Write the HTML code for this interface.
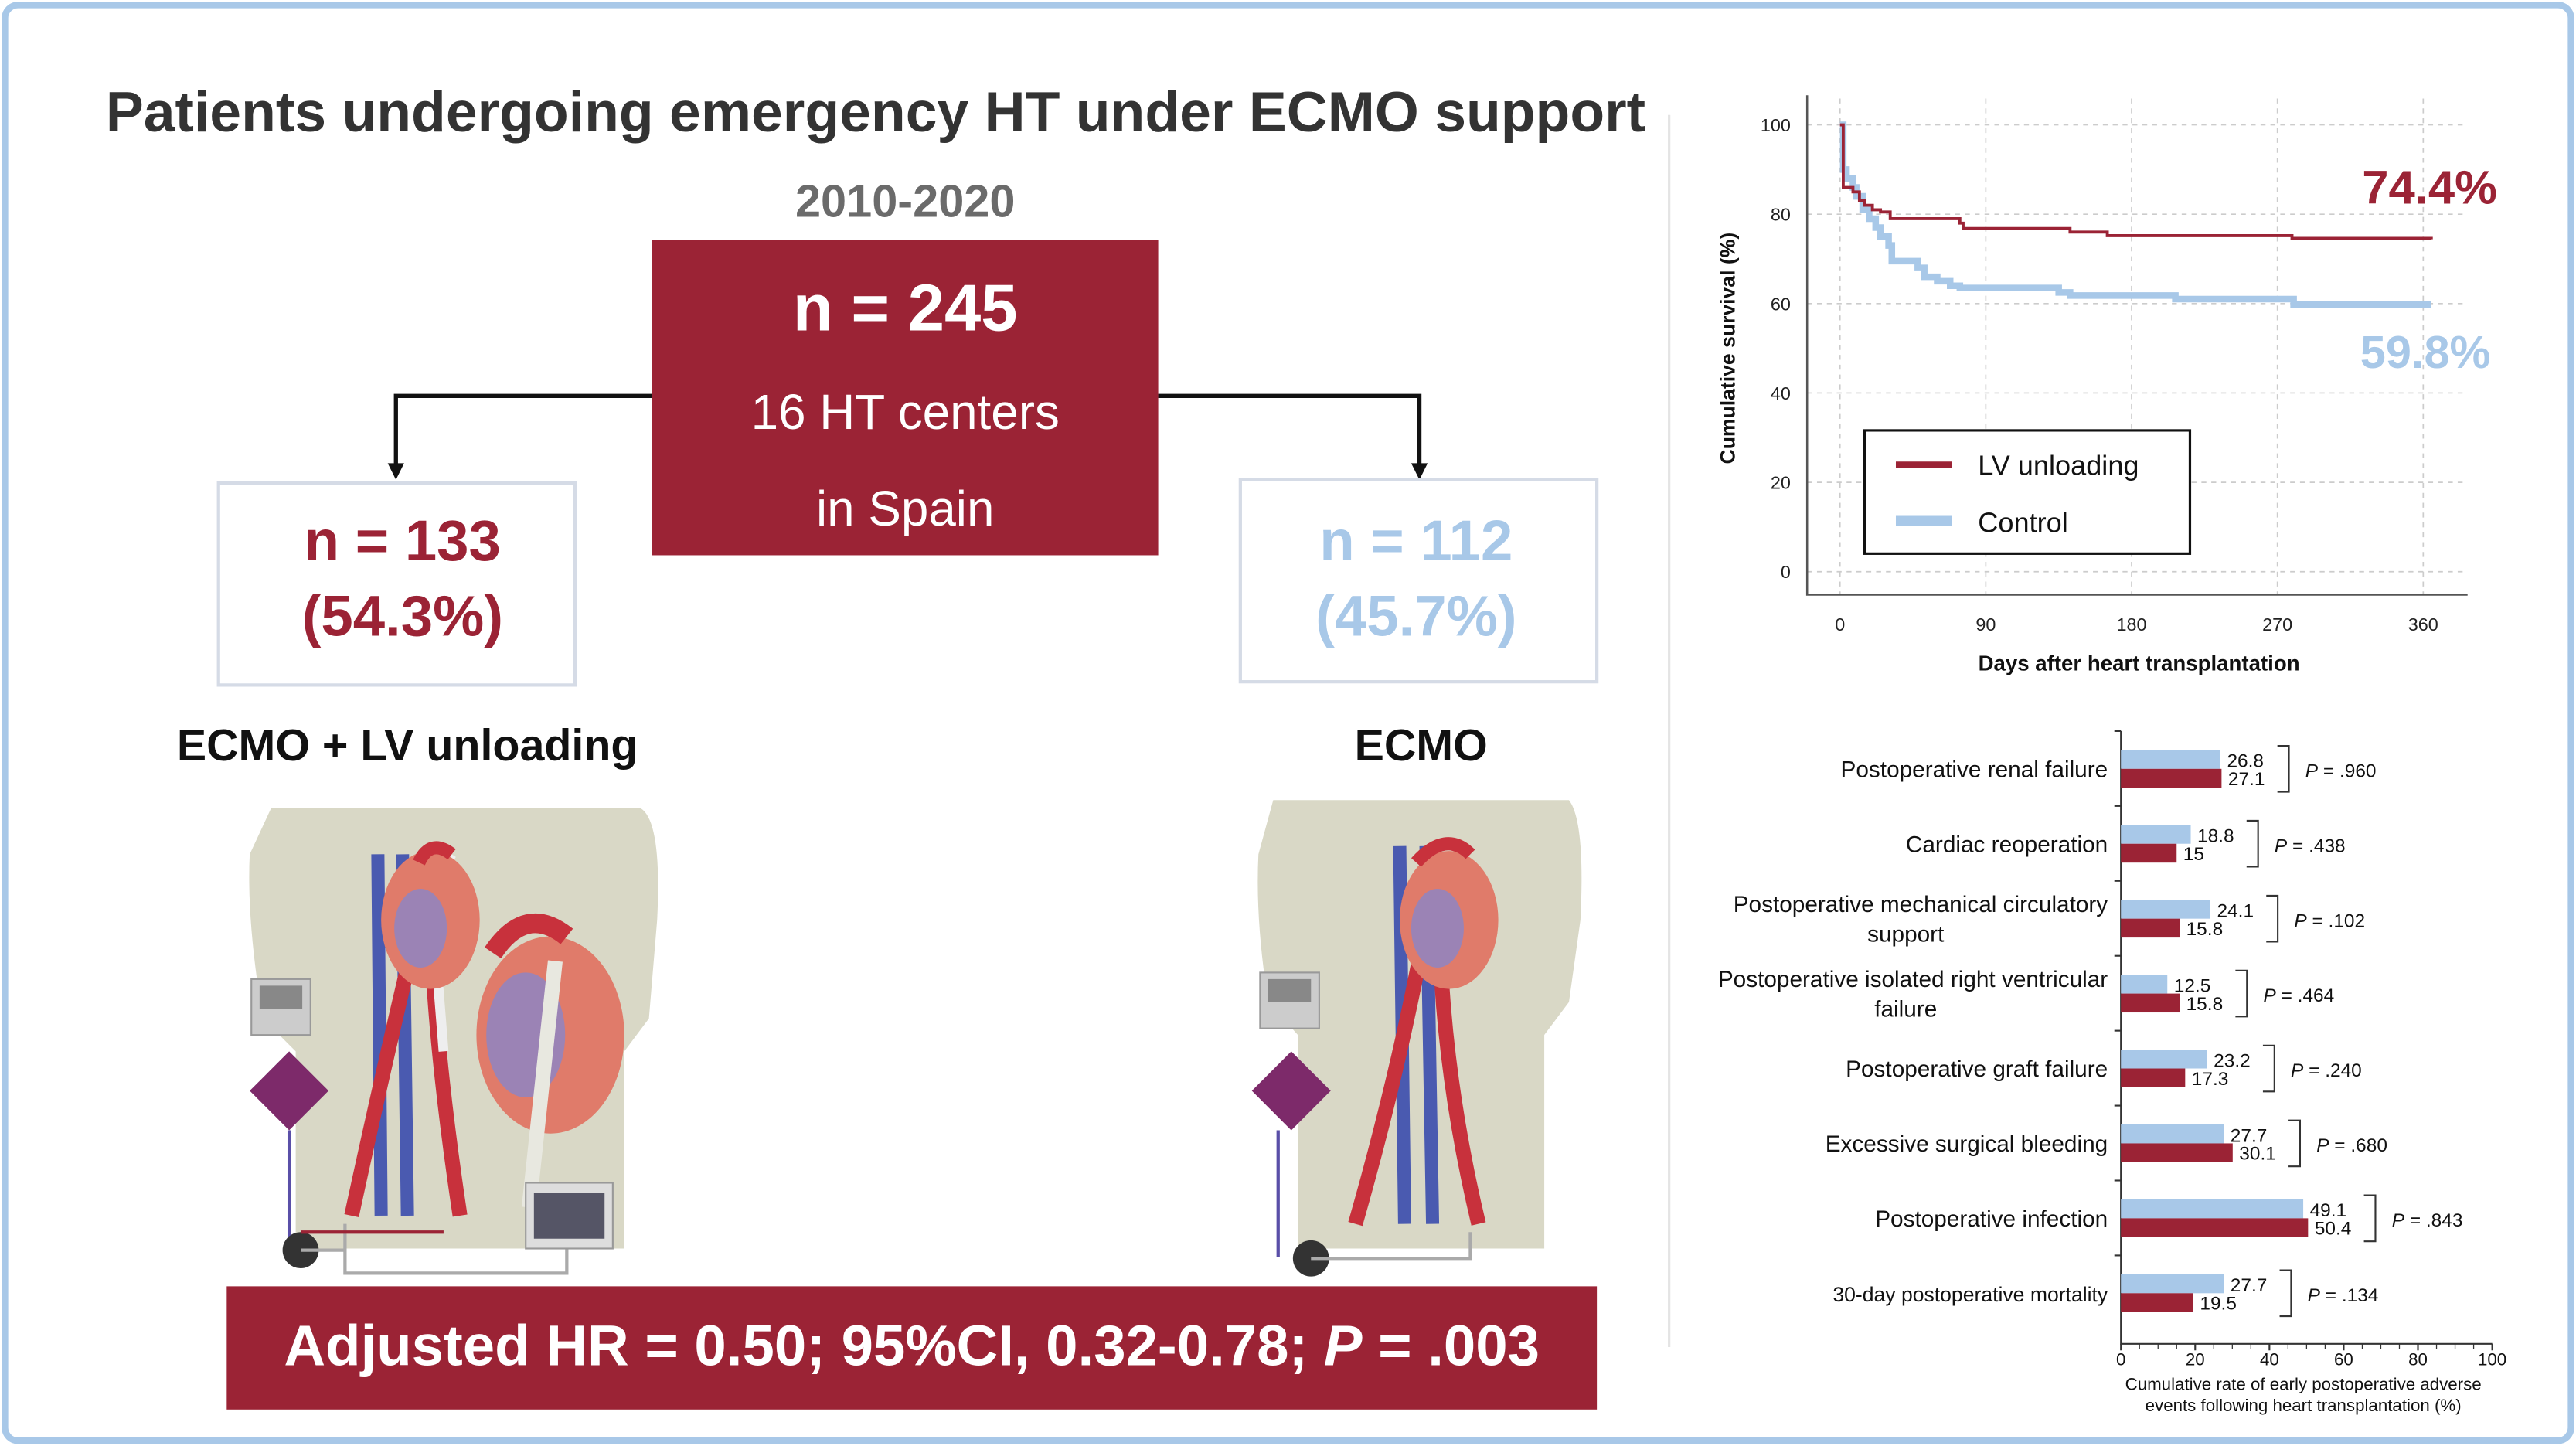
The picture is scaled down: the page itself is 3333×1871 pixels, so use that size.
<!DOCTYPE html>
<html><head><meta charset="utf-8"><style>
html,body{margin:0;padding:0;background:#fff}
svg{display:block}
text{font-family:"Liberation Sans",sans-serif}
</style></head><body>
<svg id="root" width="3333" height="1871" viewBox="0 0 1568 880.2" xmlns="http://www.w3.org/2000/svg">
<rect x="3" y="3" width="1562" height="874" rx="8" fill="#fff" stroke="#a8c8e8" stroke-width="4"/>
<line x1="1016" y1="70" x2="1016" y2="820" stroke="#e4e4e4" stroke-width="1.5"/>
<text x="533" y="80" text-anchor="middle" font-size="34.5" font-weight="bold" fill="#333">Patients undergoing emergency HT under ECMO support</text>
<text x="551" y="132" text-anchor="middle" font-size="28" font-weight="bold" fill="#6b6b6b">2010-2020</text>
<rect x="397" y="146" width="308" height="192" fill="#9b2335"/>
<text x="551" y="201" text-anchor="middle" font-size="40" font-weight="bold" fill="#fff">n = 245</text>
<text x="551" y="261" text-anchor="middle" font-size="30" fill="#fff">16 HT centers</text>
<text x="551" y="320" text-anchor="middle" font-size="30" fill="#fff">in Spain</text>
<path d="M397 241 H241 V284" fill="none" stroke="#111" stroke-width="2.5"/>
<path d="M236 282 L241 292 L246 282 Z" fill="#111"/>
<path d="M705 241 H864 V284" fill="none" stroke="#111" stroke-width="2.5"/>
<path d="M859 282 L864 292 L869 282 Z" fill="#111"/>
<rect x="133" y="294" width="217" height="123" fill="#fff" stroke="#d5dbe6" stroke-width="2"/>
<text x="245" y="341" text-anchor="middle" font-size="35" font-weight="bold" fill="#9b2335">n = 133</text>
<text x="245" y="387" text-anchor="middle" font-size="35" font-weight="bold" fill="#9b2335">(54.3%)</text>
<rect x="755" y="292" width="217" height="123" fill="#fff" stroke="#d5dbe6" stroke-width="2"/>
<text x="862" y="341" text-anchor="middle" font-size="35" font-weight="bold" fill="#a8c8e8">n = 112</text>
<text x="862" y="387" text-anchor="middle" font-size="35" font-weight="bold" fill="#a8c8e8">(45.7%)</text>
<text x="248" y="463" text-anchor="middle" font-size="27" font-weight="bold" fill="#111">ECMO + LV unloading</text>
<text x="865" y="463" text-anchor="middle" font-size="27" font-weight="bold" fill="#111">ECMO</text>
<g>
<path d="M165 492 L390 492 Q403 500 400 560 L395 620 L380 640 L380 760 L180 760 L180 640 L160 620 Q150 560 152 520 Z" fill="#d9d8c6"/>
<rect x="153" y="596" width="36" height="34" fill="#ccc" stroke="#999"/>
<rect x="158" y="600" width="26" height="14" fill="#888"/>
<path d="M176 640 L200 664 L176 688 L152 664 Z" fill="#7d2a6a"/>
<line x1="176" y1="688" x2="176" y2="760" stroke="#5a4fa8" stroke-width="2"/>
<circle cx="183" cy="761" r="11" fill="#333"/>
<path d="M183 761 H210 M210 745 V775 H345 V760" fill="none" stroke="#aaa" stroke-width="2"/>
<path d="M183 750 H270" fill="none" stroke="#9b2335" stroke-width="2"/>
<path d="M230 520 L232 740 M245 520 L248 740" stroke="#4a5ab0" stroke-width="8"/>
<path d="M214 740 Q240 620 260 540 M280 740 Q262 620 262 540" stroke="#c8313c" stroke-width="9" fill="none"/>
<path d="M262 540 L275 520 M270 640 L262 540" stroke="#eee" stroke-width="6"/>
<ellipse cx="262" cy="560" rx="30" ry="42" fill="#e07b6a"/>
<ellipse cx="256" cy="565" rx="16" ry="24" fill="#8a86c8" opacity=".8"/>
<path d="M255 525 Q262 510 275 520" stroke="#c8313c" stroke-width="8" fill="none"/>
<ellipse cx="335" cy="630" rx="45" ry="60" fill="#e07b6a"/>
<ellipse cx="320" cy="630" rx="24" ry="38" fill="#8a86c8" opacity=".8"/>
<path d="M300 580 Q320 550 345 570" stroke="#c8313c" stroke-width="12" fill="none"/>
<path d="M338 585 L322 735" stroke="#e8e8e0" stroke-width="9"/>
<rect x="320" y="720" width="53" height="40" fill="#ddd" stroke="#999"/>
<rect x="325" y="726" width="43" height="28" fill="#556"/>
</g>
<g>
<path d="M775 487 L955 487 Q965 500 962 560 L955 610 L940 630 L940 760 L790 760 L790 630 L772 610 Q764 560 766 520 Z" fill="#d9d8c6"/>
<rect x="767" y="592" width="36" height="34" fill="#ccc" stroke="#999"/>
<rect x="772" y="596" width="26" height="14" fill="#888"/>
<path d="M786 640 L810 664 L786 688 L762 664 Z" fill="#7d2a6a"/>
<line x1="778" y1="688" x2="778" y2="765" stroke="#5a4fa8" stroke-width="2"/>
<circle cx="798" cy="766" r="11" fill="#333"/>
<path d="M798 766 H895 V750" fill="none" stroke="#aaa" stroke-width="2"/>
<path d="M852 515 L855 745 M868 515 L872 745" stroke="#4a5ab0" stroke-width="8"/>
<path d="M825 745 Q855 640 872 540 M900 745 Q875 640 876 540" stroke="#c8313c" stroke-width="9" fill="none"/>
<ellipse cx="882" cy="560" rx="30" ry="42" fill="#e07b6a"/>
<ellipse cx="875" cy="565" rx="16" ry="24" fill="#8a86c8" opacity=".8"/>
<path d="M862 525 Q880 505 895 520" stroke="#c8313c" stroke-width="8" fill="none"/>
</g>
<rect x="138" y="783" width="834" height="75" fill="#9b2335"/>
<text x="555" y="831" text-anchor="middle" font-size="35" font-weight="bold" fill="#fff">Adjusted HR = 0.50; 95%CI, 0.32-0.78; <tspan font-style="italic">P</tspan> = .003</text>

<g id="km"></g>
<g id="bars"></g>
</svg>
<script>
const kmTicksX = [0, 90, 180, 270, 360];
const kmTicksY = [0, 20, 40, 60, 80, 100];
const lvDays = [0, 2, 8, 12, 15, 20, 25, 31, 74, 76, 142, 165, 279, 365];
const lvSurv = [100, 86, 85, 83, 82, 81, 80.5, 79, 78, 76.8, 76, 75.2, 74.6, 74.4];
const ctDays = [0, 2, 4, 8, 10, 14, 18, 22, 25, 30, 32, 48, 52, 60, 68, 74, 135, 142, 207, 280, 365];
const ctSurv = [100, 90, 88, 86, 84, 81, 79, 77, 75, 73, 69.5, 68, 66, 65, 64, 63.5, 62.5, 61.8, 61, 59.8, 59.8];

const categories = [["Postoperative renal failure"],["Cardiac reoperation"],["Postoperative mechanical circulatory","support"],["Postoperative isolated right ventricular","failure"],["Postoperative graft failure"],["Excessive surgical bleeding"],["Postoperative infection"],["30-day postoperative mortality"]];
const controlVals = [26.8, 18.8, 24.1, 12.5, 23.2, 27.7, 49.1, 27.7];
const lvVals = [27.1, 15, 15.8, 15.8, 17.3, 30.1, 50.4, 19.5];
const pVals = [".960", ".438", ".102", ".464", ".240", ".680", ".843", ".134"];
const barTicks = [0, 20, 40, 60, 80, 100];

const NS = "http://www.w3.org/2000/svg";
function mk(parent, tag, attrs, txt){const e=document.createElementNS(NS,tag);for(const k in attrs)e.setAttribute(k,attrs[k]);if(txt!==undefined)e.textContent=txt;parent.appendChild(e);return e;}

const km = document.getElementById('km');
const kx = d => 1120 + d*(355/360);
const ky = v => 348 - v*2.72;
kmTicksX.forEach(t=>{
  const g=mk(km,'line',{x1:kx(t),x2:kx(t),y1:60,y2:362,stroke:'#ccc','stroke-dasharray':'3,3','stroke-width':0.8});
  
  
  const l=mk(km,'text',{x:kx(t),y:384,'text-anchor':'middle','font-size':11,fill:'#222'},t);
  
  
});
kmTicksY.forEach(t=>{
  const g=mk(km,'line',{x1:1100,x2:1502,y1:ky(t),y2:ky(t),stroke:'#ccc','stroke-dasharray':'3,3','stroke-width':0.8});
  
  
  const l=mk(km,'text',{x:1090,y:ky(t)+4,'text-anchor':'end','font-size':11,fill:'#222'},t);
  
  
});
const ax=mk(km,'path',{d:'M1100 58 V362 H1502',fill:'none',stroke:'#555','stroke-width':1.2});


function step(days,vals){let d=`M${kx(days[0])} ${ky(vals[0])}`;for(let i=1;i<days.length;i++){d+=` H${kx(days[i])} V${ky(vals[i])}`;}return d;}
const ct=mk(km,'path',{d:step(ctDays,ctSurv),fill:'none',stroke:'#a8c8e8','stroke-width':4});


const lv=mk(km,'path',{d:step(lvDays,lvSurv),fill:'none',stroke:'#9b2335','stroke-width':1.8});


const t1=mk(km,'text',{x:1520,y:124,'text-anchor':'end','font-size':29,'font-weight':'bold',fill:'#9b2335'},(lvSurv[lvSurv.length-1]).toFixed(1)+'%');


const t2=mk(km,'text',{x:1516,y:224,'text-anchor':'end','font-size':28,'font-weight':'bold',fill:'#a8c8e8'},(ctSurv[ctSurv.length-1]).toFixed(1)+'%');


const yt=mk(km,'text',{x:1056,y:212,'text-anchor':'middle','font-size':12.5,'font-weight':'bold',fill:'#111',transform:'rotate(-90 1056 212)'},'Cumulative survival (%)');


const xt=mk(km,'text',{x:1302,y:408,'text-anchor':'middle','font-size':13,'font-weight':'bold',fill:'#111'},'Days after heart transplantation');


const lg=mk(km,'g',{});


mk(lg,'rect',{x:1135,y:262,width:198,height:75,fill:'#fff',stroke:'#111','stroke-width':1.5});
mk(lg,'line',{x1:1154,x2:1188,y1:283,y2:283,stroke:'#9b2335','stroke-width':4});
mk(lg,'line',{x1:1154,x2:1188,y1:317,y2:317,stroke:'#a8c8e8','stroke-width':6});
const le1=mk(lg,'text',{x:1204,y:289,'font-size':17,fill:'#111'},'LV unloading');


const le2=mk(lg,'text',{x:1204,y:324,'font-size':17,fill:'#111'},'Control');



const bars=document.getElementById('bars');
const bx = v => 1291 + v*2.26;
const rowY = i => 468 + i*45.6;
const bh = 11.5;
const bax=mk(bars,'path',{d:'M1291 445 V818 H1517',fill:'none',stroke:'#333','stroke-width':1});


barTicks.forEach(t=>{
  mk(bars,'line',{x1:bx(t),x2:bx(t),y1:818,y2:822,stroke:'#333','stroke-width':1});
  const l=mk(bars,'text',{x:bx(t),y:831,'text-anchor':'middle','font-size':10.5,fill:'#111'},t);
  
  
});
for(let t=5;t<100;t+=5){mk(bars,'line',{x1:bx(t),x2:bx(t),y1:818,y2:821,stroke:'#333','stroke-width':0.6});}
categories.forEach((c,i)=>{
  const cy=rowY(i);
  mk(bars,'line',{x1:1287,x2:1291,y1:cy-23,y2:cy-23,stroke:'#333','stroke-width':1});
  c.forEach((line,j)=>{
    const ty = c.length===1 ? cy+5 : cy-4+j*18;
    const t=mk(bars,'text',{x: c.length===2&&j===1 ? 1160 : 1283, y:ty,'text-anchor': c.length===2&&j===1 ? 'middle':'end','font-size': i===7?12.5:14,fill:'#111'},line);
    
    
  });
  const b1=mk(bars,'rect',{x:1291,y:cy-bh,width:bx(controlVals[i])-1291,height:bh,fill:'#a8c8e8'});
  
  
  const b2=mk(bars,'rect',{x:1291,y:cy,width:bx(lvVals[i])-1291,height:bh,fill:'#9b2335'});
  
  
  const v1=mk(bars,'text',{x:bx(controlVals[i])+4,y:cy-1,'font-size':11.5,fill:'#111'},controlVals[i]);
  
  
  const v2=mk(bars,'text',{x:bx(lvVals[i])+4,y:cy+10,'font-size':11.5,fill:'#111'},lvVals[i]);
  
  
  const brx=Math.max(bx(controlVals[i]),bx(lvVals[i]))+41;
  mk(bars,'path',{d:`M${brx-7} ${cy-14} H${brx} V${cy+14} H${brx-7}`,fill:'none',stroke:'#333','stroke-width':1});
  const p=mk(bars,'text',{x:brx+10,y:cy+5,'font-size':11.5,fill:'#111'});
  
  
  mk(p,'tspan',{'font-style':'italic'},'P');
  mk(p,'tspan',{},' = '+pVals[i]);
});
const bt1=mk(bars,'text',{x:1402,y:846,'text-anchor':'middle','font-size':10.5,fill:'#111'},'Cumulative rate of early postoperative adverse');


const bt2=mk(bars,'text',{x:1402,y:859,'text-anchor':'middle','font-size':10.5,fill:'#111'},'events following heart transplantation (%)');


</script>
</body></html>
